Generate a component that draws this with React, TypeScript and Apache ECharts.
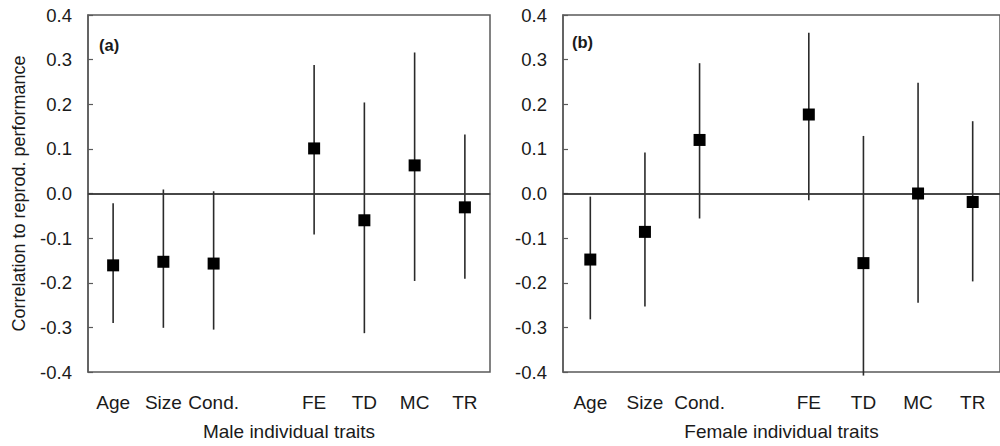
import React, { useEffect, useRef } from "react";
import * as echarts from "echarts";

const categories = ["Age", "Size", "Cond.", "", "FE", "TD", "MC", "TR"];
const traitNames = ["Age", "Size", "Cond.", "FE", "TD", "MC", "TR"];

const maleEstimate = [-0.161, -0.153, -0.157, 0.101, -0.06, 0.063, -0.031];
const maleLower = [-0.29, -0.301, -0.305, -0.092, -0.313, -0.196, -0.191];
const maleUpper = [-0.022, 0.009, 0.005, 0.288, 0.204, 0.316, 0.132];

const femaleEstimate = [-0.148, -0.086, 0.12, 0.177, -0.156, 0.0, -0.019];
const femaleLower = [-0.282, -0.253, -0.056, -0.015, -0.408, -0.245, -0.197];
const femaleUpper = [-0.007, 0.092, 0.292, 0.36, 0.129, 0.248, 0.162];

const yTicks = [-0.4, -0.3, -0.2, -0.1, 0.0, 0.1, 0.2, 0.3, 0.4];

const FONT = "Liberation Sans, Arial, sans-serif";
const TEXT = "#1a1a1a";
const FRAME = "#5a5a5a";

function buildSeries(idx: number, est: number[], lo: number[], hi: number[]) {
  const barData = traitNames.map((n, i) => [n, lo[i], hi[i]]);
  const ptData = traitNames.map((n, i) => [n, est[i]]);
  return [
    {
      type: "custom",
      xAxisIndex: idx,
      yAxisIndex: idx,
      clip: false,
      data: barData,
      encode: { x: 0, y: [1, 2] },
      renderItem: (params: any, api: any) => {
        const x = api.value(0);
        const p1 = api.coord([x, api.value(1)]);
        const p2 = api.coord([x, api.value(2)]);
        return {
          type: "line",
          shape: { x1: p1[0], y1: p1[1], x2: p2[0], y2: p2[1] },
          style: { stroke: "#2a2a2a", lineWidth: 1.6 },
        };
      },
      z: 3,
    },
    {
      type: "scatter",
      xAxisIndex: idx,
      yAxisIndex: idx,
      data: ptData,
      symbol: "rect",
      symbolSize: 12,
      itemStyle: { color: "#000", opacity: 1 },
      z: 5,
      markLine: {
        silent: true,
        symbol: ["none", "none"],
        label: { show: false },
        lineStyle: { color: "#333", width: 1.5, type: "solid", opacity: 1 },
        data: [{ yAxis: 0 }],
      },
    },
  ];
}

function makeYAxis(idx: number, withName: boolean) {
  return {
    type: "value",
    gridIndex: idx,
    min: yTicks[0],
    max: yTicks[yTicks.length - 1],
    interval: 0.1,
    name: withName ? "Correlation to reprod. performance" : "",
    nameLocation: "middle",
    nameGap: 60,
    nameTextStyle: { fontFamily: FONT, fontSize: 18, color: TEXT },
    axisLine: { show: true, lineStyle: { color: FRAME, width: 1.5 } },
    axisTick: { show: true, inside: true, length: 5, lineStyle: { color: FRAME, width: 1.2 } },
    splitLine: { show: false },
    axisLabel: {
      fontFamily: FONT,
      fontSize: 18.5,
      color: TEXT,
      margin: 16,
      formatter: (v: number) => v.toFixed(1),
    },
  };
}

function makeXAxis(idx: number, name: string) {
  return {
    type: "category",
    gridIndex: idx,
    data: categories,
    boundaryGap: true,
    name,
    nameLocation: "middle",
    nameGap: 50,
    nameTextStyle: { fontFamily: FONT, fontSize: 19, color: TEXT },
    axisLine: { show: true, lineStyle: { color: FRAME, width: 1.5 } },
    axisTick: { show: false },
    splitLine: { show: false },
    axisLabel: { fontFamily: FONT, fontSize: 19, color: TEXT, margin: 21, interval: 0 },
  };
}

export default function App() {
  const ref = useRef<HTMLDivElement>(null);
  useEffect(() => {
    if (!ref.current) return;
    const chart = echarts.init(ref.current, undefined, { renderer: "svg" });
    chart.setOption({
      animation: false,
      backgroundColor: "#ffffff",
      grid: [
        { left: 88, top: 15, width: 402, height: 357, show: true, borderColor: FRAME, borderWidth: 1.5, backgroundColor: "transparent" },
        { left: 563, top: 15, width: 443, height: 357, show: true, borderColor: FRAME, borderWidth: 1.5, backgroundColor: "transparent" },
      ],
      xAxis: [makeXAxis(0, "Male individual traits"), makeXAxis(1, "Female individual traits")],
      yAxis: [makeYAxis(0, true), makeYAxis(1, false)],
      graphic: [
        { type: "text", left: 99, top: 36, style: { text: "(a)", fontFamily: FONT, fontSize: 16.5, fontWeight: "bold", fill: TEXT } },
        { type: "text", left: 572, top: 33, style: { text: "(b)", fontFamily: FONT, fontSize: 16.5, fontWeight: "bold", fill: TEXT } },
      ],
      series: [
        ...buildSeries(0, maleEstimate, maleLower, maleUpper),
        ...buildSeries(1, femaleEstimate, femaleLower, femaleUpper),
      ],
    });
    return () => chart.dispose();
  }, []);
  return (
    <div
      ref={ref}
      style={{ position: "fixed", left: 0, top: 0, width: 1000, height: 446, background: "#fff" }}
    />
  );
}
